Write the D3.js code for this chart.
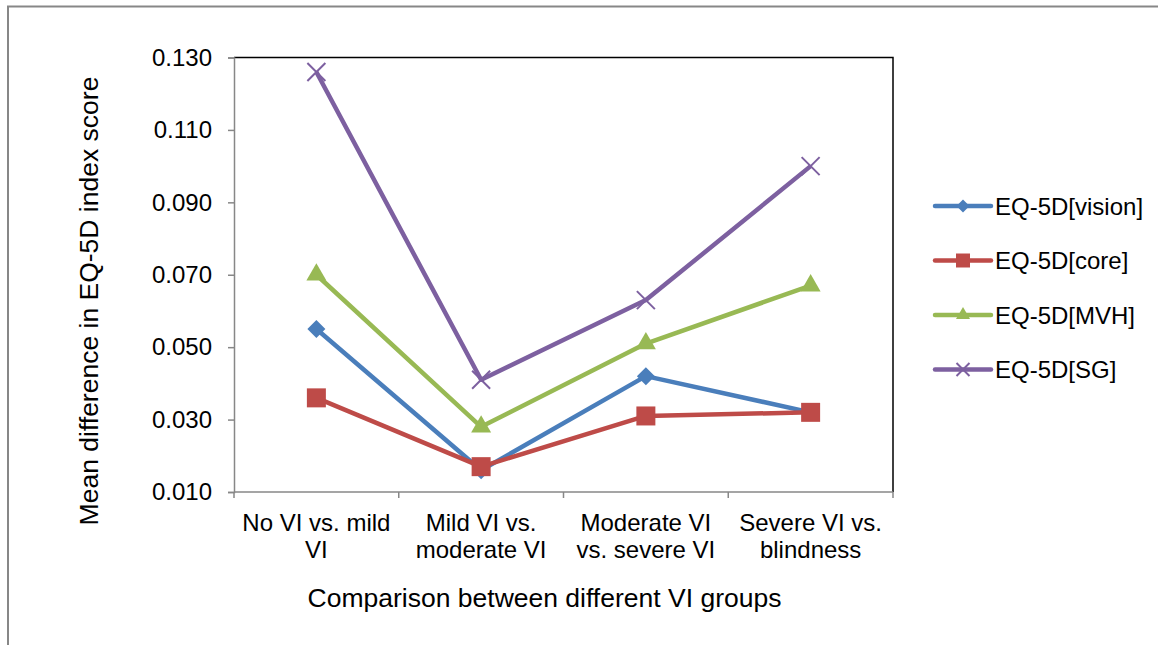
<!DOCTYPE html>
<html>
<head>
<meta charset="utf-8">
<script src="https://cdn.jsdelivr.net/npm/d3@7"></script>
<style>
  html, body { margin: 0; padding: 0; background: #fff; }
  svg { display: block; font-family: "Liberation Sans", Arial, sans-serif; }
</style>
</head>
<body>
<div id="chart"></div>
<script>
// 数据
const categories = [
  ['No VI vs. mild', 'VI'],
  ['Mild VI vs.', 'moderate VI'],
  ['Moderate VI', 'vs. severe VI'],
  ['Severe VI vs.', 'blindness']
];
const seriesNames = ['EQ-5D[vision]', 'EQ-5D[core]', 'EQ-5D[MVH]', 'EQ-5D[SG]'];
const visionValues = [0.055, 0.016, 0.042, 0.032];
const coreValues = [0.036, 0.017, 0.031, 0.032];
const mvhValues = [0.070, 0.028, 0.051, 0.067];
const sgValues = [0.126, 0.041, 0.063, 0.100];
const yTicks = [0.010, 0.030, 0.050, 0.070, 0.090, 0.110, 0.130];

const width = 1158, height = 645;
const margin = { top: 57.5, right: 265, bottom: 153, left: 234 };
const chartWidth = width - margin.left - margin.right;
const chartHeight = height - margin.top - margin.bottom;

const colors = ['#4A7EBB', '#BE4B48', '#98B954', '#7D60A0'];
const markers = ['diamond', 'square', 'triangle', 'x'];
const allSeries = [visionValues, coreValues, mvhValues, sgValues];

const svg = d3.select('#chart').append('svg')
  .attr('width', width).attr('height', height);

// 外框
svg.append('path')
  .attr('d', `M8,${height + 5}V6.5H${width + 5}`)
  .attr('fill', 'none').attr('stroke', '#878787').attr('stroke-width', 2);

const chart = svg.append('g').attr('transform', `translate(${margin.left},${margin.top})`);

const xScale = d3.scaleBand().domain(d3.range(categories.length)).range([0, chartWidth]).padding(0);
const yScale = d3.scaleLinear().domain([0.010, 0.130]).range([chartHeight, 0]);

// 绘图区边框（上、右）
chart.append('path')
  .attr('d', `M0,0H${chartWidth}V${chartHeight}`)
  .attr('fill', 'none').attr('stroke', '#000').attr('stroke-width', 1.5);

// Y 轴
const yAxis = chart.append('g')
  .call(d3.axisLeft(yScale).tickValues(yTicks).tickFormat(d3.format('.3f')).tickSize(6).tickPadding(16));
yAxis.select('.domain').attr('stroke', '#878787').attr('stroke-width', 1.5);
yAxis.selectAll('.tick line').attr('stroke', '#878787').attr('stroke-width', 1.5);
yAxis.selectAll('.tick text').attr('font-size', '24px').attr('fill', '#000')
  .attr('font-family', '"Liberation Sans", Arial, sans-serif');

// X 轴
chart.append('line')
  .attr('x1', 0).attr('x2', chartWidth)
  .attr('y1', chartHeight).attr('y2', chartHeight)
  .attr('stroke', '#878787').attr('stroke-width', 1.5);
const boundaries = d3.range(categories.length).map((i) => xScale(i)).concat([chartWidth]);
chart.selectAll('.xtick').data(boundaries).join('line')
  .attr('class', 'xtick')
  .attr('x1', (d) => d).attr('x2', (d) => d)
  .attr('y1', chartHeight).attr('y2', chartHeight + 6)
  .attr('stroke', '#878787').attr('stroke-width', 1.5);

chart.selectAll('.xlabel').data(categories).join('text')
  .attr('class', 'xlabel')
  .attr('text-anchor', 'middle')
  .attr('font-size', '24px')
  .attr('transform', (d, i) => `translate(${xScale(i) + xScale.bandwidth() / 2},${chartHeight + 39})`)
  .selectAll('tspan').data((d) => d).join('tspan')
  .attr('x', 0).attr('dy', (d, j) => (j === 0 ? 0 : 27))
  .text((d) => d);

// 轴标题
svg.append('text')
  .attr('x', 544.5)
  .attr('y', 607)
  .attr('text-anchor', 'middle')
  .attr('font-size', '26.5px')
  .text('Comparison between different VI groups');

svg.append('text')
  .attr('transform', 'translate(98,301) rotate(-90)')
  .attr('text-anchor', 'middle')
  .attr('font-size', '26.5px')
  .text('Mean difference in EQ-5D index score');

// 标记形状
function markerPath(type, s) {
  if (type === 'diamond') return d3.symbol(d3.symbolSquare, s * s / 2)();
  if (type === 'square') return d3.symbol(d3.symbolSquare, s * s)();
  if (type === 'triangle') return d3.symbol(d3.symbolTriangle, Math.sqrt(3) / 4 * s * s)();
  const h = s / 2;
  return `M${-h},${-h}L${h},${h}M${-h},${h}L${h},${-h}`;
}
function drawMarker(g, type, color, s) {
  const p = g.append('path').attr('d', markerPath(type, s));
  if (type === 'x') {
    p.attr('fill', 'none').attr('stroke', color).attr('stroke-width', 2);
  } else {
    p.attr('fill', color);
    if (type === 'diamond') p.attr('transform', 'rotate(45)');
  }
}

const line = d3.line()
  .x((d, i) => xScale(i) + xScale.bandwidth() / 2)
  .y((d) => yScale(d));

allSeries.forEach((values, k) => {
  chart.append('path')
    .datum(values)
    .attr('d', line)
    .attr('fill', 'none')
    .attr('stroke', colors[k])
    .attr('stroke-width', 4.5)
    .attr('stroke-linejoin', 'round');
});
const markerSizes = [18, 19, 20, 18];
allSeries.forEach((values, k) => {
  values.forEach((v, i) => {
    const g = chart.append('g')
      .attr('transform', `translate(${xScale(i) + xScale.bandwidth() / 2},${yScale(v)})`);
    drawMarker(g, markers[k], colors[k], markerSizes[k]);
  });
});

// 图例
const legend = svg.append('g').attr('transform', 'translate(935,206)');
const legendItems = legend.selectAll('g').data(seriesNames).join('g')
  .attr('transform', (d, i) => `translate(0,${i * 54.5})`);
legendItems.append('line')
  .attr('x1', 0).attr('x2', 56).attr('y1', 0).attr('y2', 0)
  .attr('stroke', (d, i) => colors[i]).attr('stroke-width', 4.5)
  .attr('stroke-linecap', 'round');
legendItems.each(function (d, i) {
  const g = d3.select(this).append('g').attr('transform', 'translate(28,0)');
  drawMarker(g, markers[i], colors[i], [13, 14, 14, 13][i]);
});
legendItems.append('text')
  .attr('x', 60).attr('y', 8.5)
  .attr('font-size', '24px')
  .text((d) => d);
</script>
</body>
</html>
